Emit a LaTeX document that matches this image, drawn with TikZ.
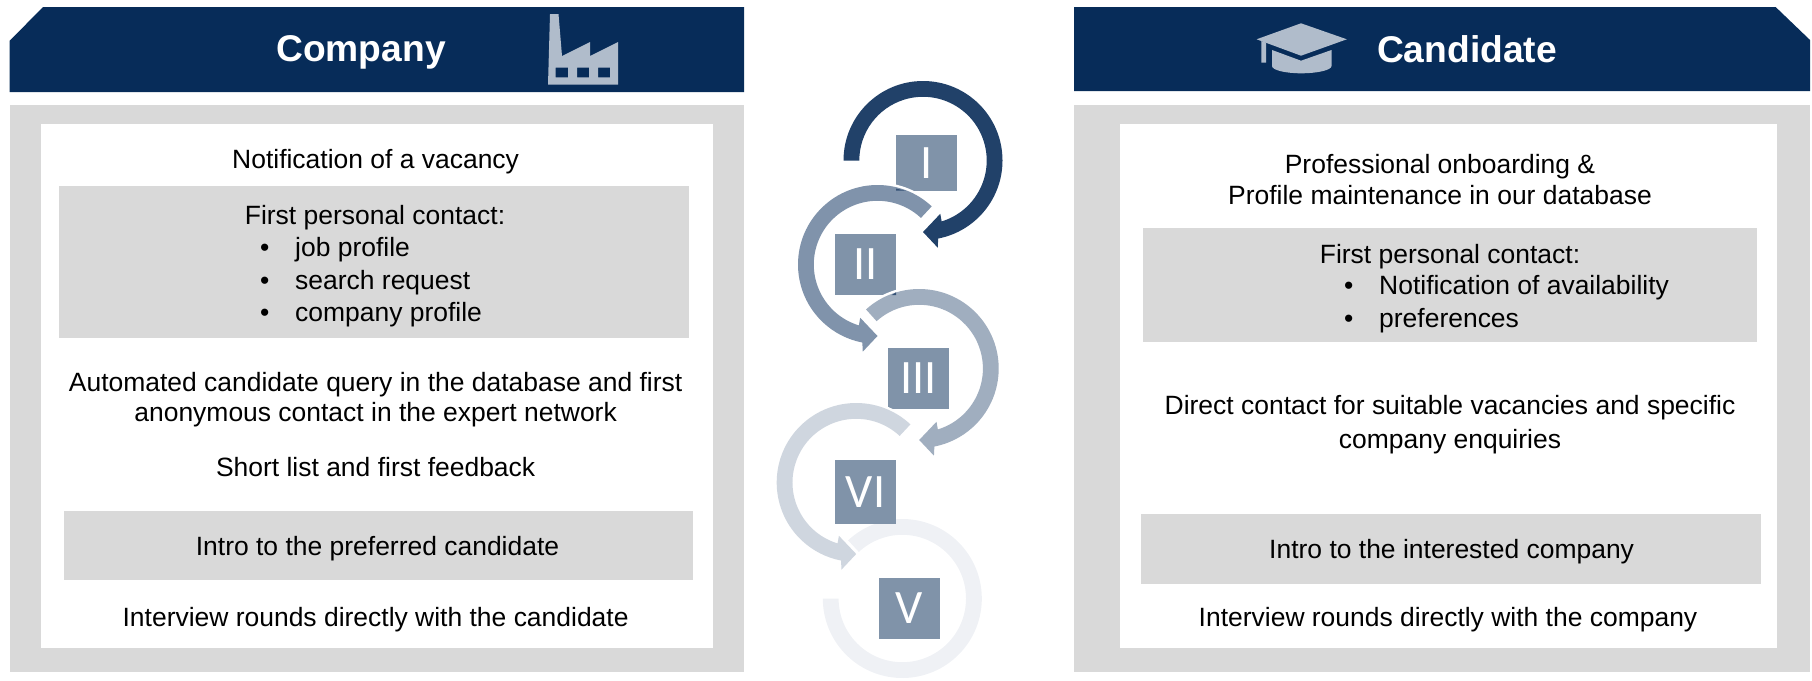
\documentclass[tikz,border=0pt]{standalone}
\usepackage{fontspec}
\setmainfont{Liberation Sans}
\newfontfamily\numfont{Carlito}
\definecolor{navy}{HTML}{072C59}
\definecolor{panel}{HTML}{D9D9D9}
\definecolor{icon}{HTML}{B0BCCB}
\definecolor{sq}{HTML}{8093A9}
\definecolor{arcA}{HTML}{214169}
\definecolor{arcB}{HTML}{8093AB}
\definecolor{arcC}{HTML}{A0AEBF}
\definecolor{arcD}{HTML}{CFD6DF}
\definecolor{arcE}{HTML}{EFF1F5}
\tikzset{
  txt/.style={anchor=base,inner sep=0pt,font=\fontsize{26.46}{30}\selectfont,text=black},
  bul/.style={txt,anchor=base west},
  head/.style={anchor=base,inner sep=0pt,font=\fontsize{37.2}{40}\selectfont\bfseries,text=white},
  num/.style={fill=sq,text=white,inner sep=0pt,minimum width=61pt,font=\fontsize{48}{50}\selectfont\numfont},
  ring/.style={preaction={draw=white,line width=5pt}}
}
% centre x, centre y, start angle, sign (+1 clockwise, -1 counter-clockwise), colour, tip angle
\newcommand{\cyclearrow}[6]{%
  \begin{scope}[shift={(#1,#2)}]
  \fill[ring,fill=#5] (#3:79.5) arc[start angle=#3,end angle={#6+#4*11},radius=79.5]
    -- ({#6+#4*9.6}:88.4) -- (#6:71.5) -- ({#6+#4*18}:56)
    -- ({#6+#4*17}:63.7) arc[start angle={#6+#4*17},end angle=#3,radius=63.7] -- cycle;
  \end{scope}}
\begin{document}
\begin{tikzpicture}[x=1pt,y=1pt]
\useasboundingbox (0,0) rectangle (1812,-680);
% banners
\fill[navy] (9.5,-41) -- (43,-7) -- (744,-7) -- (744,-92) -- (9.5,-92) -- cycle;
\fill[navy] (1074,-7) -- (1775.6,-7) -- (1810,-40) -- (1810,-91) -- (1074,-91) -- cycle;
\node[head] (company) at (361,-61) {Company};
\node[head] (candidate) at (1467,-62) {Candidate};
% factory
\fill[icon,even odd rule] (548,-84.7) -- (550,-14) -- (558.5,-14) -- (562,-56) -- (590,-42) -- (590,-56) -- (618,-42) -- (618,-84.7) -- cycle
  (555.5,-67.7) rectangle (568,-77.3) (577,-67.7) rectangle (589,-77.3) (598,-67.7) rectangle (610,-77.3);
% cap
\fill[icon] (1301,-23.3) -- (1346.8,-39.3) -- (1301,-55.7) -- (1256.6,-39.3) -- cycle;
\fill[icon] (1261.4,-41) -- (1266,-42.5) -- (1266,-62.7) -- (1261.4,-62.7) -- cycle;
\fill[icon] (1272,-50) -- (1301,-60.7) -- (1331.5,-50) -- (1331.5,-66) .. controls (1331.5,-70) and (1318,-73.3) .. (1301,-73.3) .. controls (1285,-73.3) and (1272,-70) .. (1272,-66) -- cycle;
% panels
\fill[panel] (9.5,-105) rectangle (744,-672);
\fill[white] (41,-124) rectangle (712.5,-648);
\fill[panel] (59,-186) rectangle (689,-338);
\fill[panel] (63.5,-511) rectangle (693,-580);
\fill[panel] (1074,-105) rectangle (1810,-672);
\fill[white] (1120,-124) rectangle (1777,-648);
\fill[panel] (1143,-228) rectangle (1757,-342);
\fill[panel] (1140.6,-514) rectangle (1761,-584);
% left text
\node[txt] (l1) at (375.6,-168) {Notification of a vacancy};
\node[txt] (l2) at (375,-224.5) {First personal contact:};
\node[bul] (l3b) at (260,-256.5) {•};
\node[bul] (l3) at (295,-256.5) {job profile};
\node[bul] (l4b) at (260,-289) {•};
\node[bul] (l4) at (295,-289) {search request};
\node[bul] (l5b) at (260,-321.5) {•};
\node[bul] (l5) at (295,-321.5) {company profile};
\node[txt] (l6) at (375.6,-391.5) {Automated candidate query in the database and first};
\node[txt] (l7) at (375.6,-421.5) {anonymous contact in the expert network};
\node[txt] (l8) at (375.6,-476.5) {Short list and first feedback};
\node[txt] (l9) at (377.5,-555.5) {Intro to the preferred candidate};
\node[txt] (l10) at (375.6,-626) {Interview rounds directly with the candidate};
% right text
\node[txt] (r1) at (1440,-173.5) {Professional onboarding \&};
\node[txt] (r2) at (1440,-204) {Profile maintenance in our database};
\node[txt] (r3) at (1450,-263.5) {First personal contact:};
\node[bul] (r4b) at (1344,-294.5) {•};
\node[bul] (r4) at (1379,-294.5) {Notification of availability};
\node[bul] (r5b) at (1344,-327.5) {•};
\node[bul] (r5) at (1379,-327.5) {preferences};
\node[txt] (r6) at (1450,-414.5) {Direct contact for suitable vacancies and specific};
\node[txt] (r7) at (1450,-448.5) {company enquiries};
\node[txt] (r8) at (1451.6,-558.5) {Intro to the interested company};
\node[txt] (r9) at (1448,-626.5) {Interview rounds directly with the company};
% cycle: squares that lie below the arcs
\node[num,minimum height=55.7pt] (sI) at (926.5,-162.85) {I};
\node[num,minimum height=61pt] (sII) at (865.5,-264.5) {II};
\node[num,minimum height=61pt] (sIII) at (918.5,-378.5) {III};
% last ring has no head
\begin{scope}[shift={(902.3,-598.5)}]
\fill[arcE] (133:79.5) arc[start angle=133,end angle=-180,radius=79.5] -- (-180:63.7) arc[start angle=-180,end angle=133,radius=63.7] -- cycle;
\end{scope}
\node[num,minimum height=64pt] (sVI) at (865.5,-492) {VI};
\node[num,minimum height=61pt] (sV) at (909.5,-608.5) {V};
\cyclearrow{856.2}{-482.5}{47}{-1}{arcD}{270}
\cyclearrow{919.2}{-368.5}{132}{1}{arcC}{-90}
\cyclearrow{877.5}{-264.5}{47}{-1}{arcB}{270}
\fill[arcA!80!sq] (896,-188.6) -- (906,-190.7) -- (896,-190.7) -- cycle;
\fill[arcA!80!sq] (891.7,-295) -- (896,-292.3) -- (896,-295) -- cycle;
\cyclearrow{923}{-160.5}{180}{1}{arcA}{-90}
\end{tikzpicture}
\end{document}
